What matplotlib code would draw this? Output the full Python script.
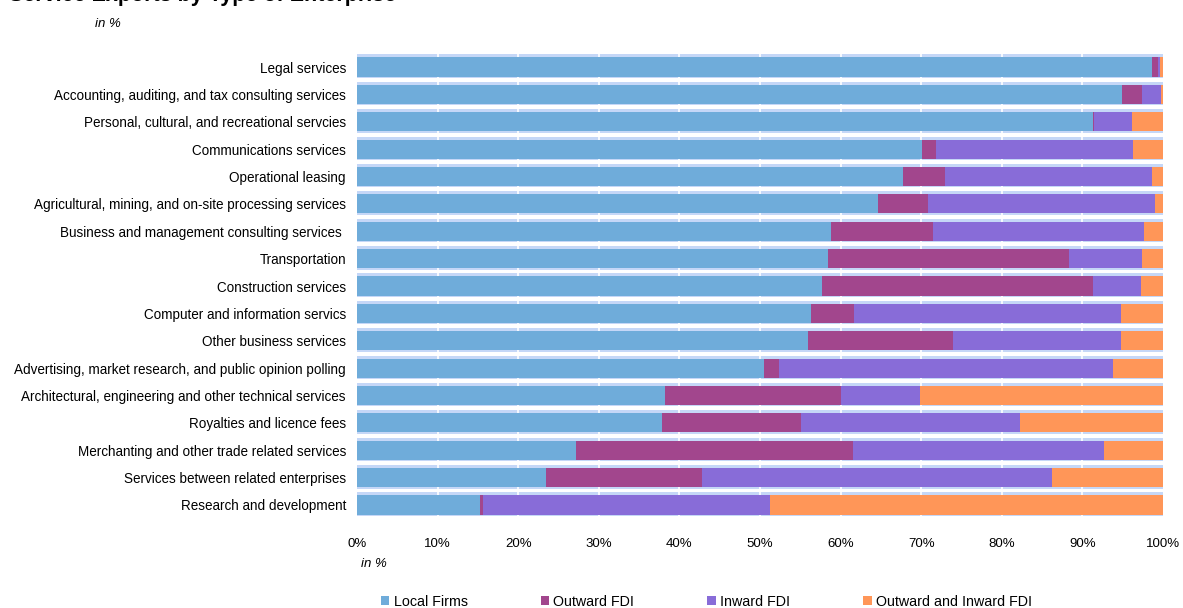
import numpy as np
import matplotlib.pyplot as plt

plt.rcParams['font.family'] = ['Liberation Sans', 'DejaVu Sans']

categories = [
    "Legal services",
    "Accounting, auditing, and tax consulting services",
    "Personal, cultural, and recreational servcies",
    "Communications services",
    "Operational leasing",
    "Agricultural, mining, and on-site processing services",
    "Business and management consulting services ",
    "Transportation",
    "Construction services",
    "Computer and information servics",
    "Other business services",
    "Advertising, market research, and public opinion polling",
    "Architectural, engineering and other technical services",
    "Royalties and licence fees",
    "Merchanting and other trade related services",
    "Services between related enterprises",
    "Research and development",
]
local_firms = [98.6, 94.9, 91.3, 70.1, 67.8, 64.6, 58.8, 58.4, 57.7, 56.3, 55.9, 50.5, 38.2, 37.8, 27.2, 23.4, 15.3]
outward_fdi = [0.8, 2.5, 0.1, 1.7, 5.2, 6.2, 12.7, 29.9, 33.6, 5.4, 18.0, 1.8, 21.8, 17.3, 34.3, 19.4, 0.3]
inward_fdi = [0.2, 2.4, 4.8, 24.5, 25.6, 28.2, 26.2, 9.1, 6.0, 33.1, 20.9, 41.5, 9.8, 27.1, 31.2, 43.4, 35.6]
both_fdi = [0.4, 0.2, 3.8, 3.7, 1.4, 1.0, 2.3, 2.6, 2.7, 5.2, 5.2, 6.2, 30.2, 17.8, 7.3, 13.8, 48.8]

series = [local_firms, outward_fdi, inward_fdi, both_fdi]
labels = ["Local Firms", "Outward FDI", "Inward FDI", "Outward and Inward FDI"]
colors = ["#6FACDA", "#A2468D", "#886CD8", "#FF9658"]

fig = plt.figure(figsize=(11.83, 6.08), dpi=100)
ax = fig.add_axes([0.3018, 0.1469, 0.6813, 0.7654])

y = np.arange(len(categories))
# light blue band behind each row
ax.barh(y - 0.03, 100, height=0.86, left=0, color="#C5D7F7", zorder=1)
for gx in range(10, 100, 10):
    ax.axvline(gx, color="white", lw=1.2, zorder=1.5)

left = np.zeros(len(categories))
handles = []
for vals, lab, col in zip(series, labels, colors):
    h = ax.barh(y, vals, left=left, height=0.70, color=col, label=lab, zorder=2)
    handles.append(h)
    left += np.array(vals)

ax.set_xlim(0, 100)
ax.set_ylim(len(categories) - 0.5, -0.5)
ax.set_yticks(y)
ax.set_yticklabels(categories, fontsize=9.75)
ax.set_xticks(np.arange(0, 101, 10))
ax.set_xticklabels([f"{v}%" for v in range(0, 101, 10)], fontsize=9.5)
ax.tick_params(length=0, pad=8)
ax.tick_params(axis='x', pad=14)
for s in ax.spines.values():
    s.set_visible(False)

fig.text(0.305, 0.067, "in %", fontsize=9.5, style="italic")
fig.text(0.008, 1.007, "Service Exports by Type of Enterprise", fontsize=15.5,
         fontweight="bold", va="center")
fig.text(0.08, 0.96, "in %", fontsize=9.5, style="italic", va="center")

fig.legend(handles=handles, labels=labels, loc="lower left",
           bbox_to_anchor=(0.311, -0.022), ncol=4, frameon=False,
           fontsize=10.3, handlelength=0.6, handleheight=0.6,
           handletextpad=0.3, columnspacing=5.1)

fig.savefig("out.png", dpi=100)
